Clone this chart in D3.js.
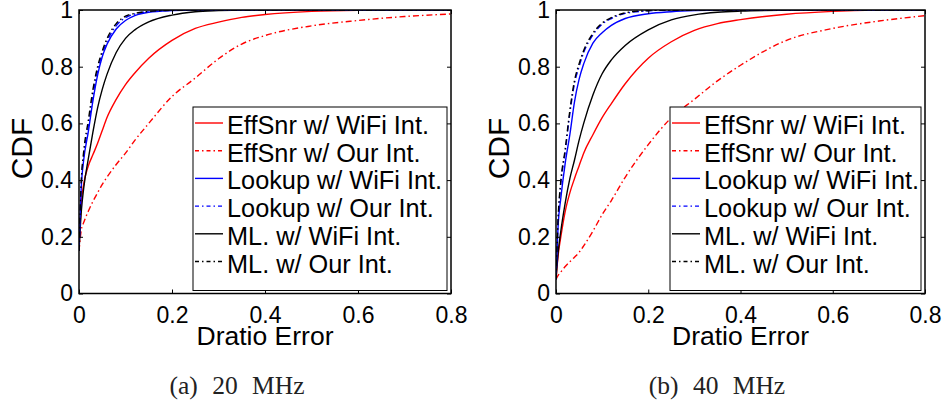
<!DOCTYPE html>
<html>
<head>
<meta charset="utf-8">
<script src="https://cdn.jsdelivr.net/npm/d3@7"></script>
<style>
  body { margin: 0; background: #fff; }
  svg text { font-family: "Liberation Sans", Arial, sans-serif; fill: #000; }
  .caption { font-family: "Liberation Serif", "Times New Roman", serif !important; fill: #222 !important; }
</style>
</head>
<body>
<svg id="chart" width="948" height="400"></svg>
<script>
// Dratio error values where each CDF was read
const errorGrid = [0, 0.005, 0.01, 0.02, 0.03, 0.04, 0.05, 0.06, 0.08, 0.1, 0.12, 0.15, 0.2, 0.25, 0.3, 0.35, 0.4, 0.5, 0.6, 0.7, 0.8]

// (a) 20 MHz
const eff20Wifi  = [0.15, 0.32, 0.385, 0.45, 0.49, 0.53, 0.575, 0.62, 0.685, 0.737, 0.778, 0.83, 0.893, 0.935, 0.957, 0.974, 0.984, 0.995, 0.999, 1, 1]
const eff20Our   = [0.15, 0.225, 0.25, 0.29, 0.325, 0.355, 0.385, 0.41, 0.455, 0.495, 0.54, 0.60, 0.695, 0.76, 0.828, 0.88, 0.91, 0.944, 0.963, 0.977, 0.986]
const look20Wifi = [0.15, 0.38, 0.47, 0.57, 0.68, 0.77, 0.835, 0.878, 0.933, 0.963, 0.98, 0.992, 0.998, 1, 1, 1, 1, 1, 1, 1, 1]
const look20Our  = [0.15, 0.39, 0.485, 0.59, 0.70, 0.785, 0.845, 0.888, 0.945, 0.973, 0.986, 0.994, 0.999, 1, 1, 1, 1, 1, 1, 1, 1]
const ml20Wifi   = [0.15, 0.29, 0.37, 0.475, 0.57, 0.655, 0.72, 0.772, 0.85, 0.90, 0.93, 0.958, 0.982, 0.994, 0.998, 1, 1, 1, 1, 1, 1]
const ml20Our    = [0.15, 0.40, 0.50, 0.61, 0.72, 0.80, 0.855, 0.898, 0.952, 0.978, 0.988, 0.995, 0.999, 1, 1, 1, 1, 1, 1, 1, 1]

// (b) 40 MHz
const eff40Wifi  = [0.05, 0.14, 0.195, 0.29, 0.355, 0.405, 0.45, 0.495, 0.56, 0.62, 0.67, 0.74, 0.83, 0.888, 0.928, 0.952, 0.966, 0.985, 0.995, 1, 1]
const eff40Our   = [0.05, 0.065, 0.075, 0.095, 0.112, 0.128, 0.145, 0.168, 0.22, 0.278, 0.328, 0.41, 0.525, 0.62, 0.685, 0.75, 0.805, 0.893, 0.935, 0.961, 0.98]
const look40Wifi = [0.05, 0.25, 0.33, 0.46, 0.56, 0.675, 0.755, 0.81, 0.883, 0.92, 0.946, 0.97, 0.987, 0.994, 0.998, 1, 1, 1, 1, 1, 1]
const look40Our  = [0.05, 0.27, 0.38, 0.50, 0.635, 0.74, 0.80, 0.85, 0.912, 0.95, 0.97, 0.988, 0.997, 1, 1, 1, 1, 1, 1, 1, 1]
const ml40Wifi   = [0.05, 0.15, 0.215, 0.32, 0.405, 0.47, 0.54, 0.60, 0.70, 0.775, 0.824, 0.875, 0.93, 0.965, 0.983, 0.992, 0.996, 0.999, 1, 1, 1]
const ml40Our    = [0.05, 0.28, 0.39, 0.51, 0.645, 0.75, 0.81, 0.857, 0.918, 0.954, 0.973, 0.99, 0.998, 1, 1, 1, 1, 1, 1, 1, 1]

const seriesNames = ['EffSnr w/ WiFi Int.', 'EffSnr w/ Our Int.', 'Lookup w/ WiFi Int.', 'Lookup w/ Our Int.', 'ML. w/ WiFi Int.', 'ML. w/ Our Int.']
const xTicks = [0, 0.2, 0.4, 0.6, 0.8]
const yTicks = [0, 0.2, 0.4, 0.6, 0.8, 1]
const captions = ['(a) 20 MHz', '(b) 40 MHz']

const colors = ['#ff0000', '#ff0000', '#0000ff', '#0000ff', '#000000', '#000000']
const dashes = [null, '6,3,1.5,3', null, '6,3,1.5,3', null, '6,3,1.5,3']

const panels = [
    { left: 79, right: 451, captionX: 237, series: [eff20Wifi, eff20Our, look20Wifi, look20Our, ml20Wifi, ml20Our] },
    { left: 556, right: 925, captionX: 717, series: [eff40Wifi, eff40Our, look40Wifi, look40Our, ml40Wifi, ml40Our] }
]

const svg = d3.select('#chart')
const plotTop = 10, plotBottom = 293.5

panels.forEach((p, pi) => {
    const x = d3.scaleLinear().domain([0, 0.8]).range([p.left, p.right])
    const y = d3.scaleLinear().domain([0, 1]).range([plotBottom, plotTop])
    const g = svg.append('g')

    g.append('clipPath').attr('id', 'clip' + pi)
        .append('rect')
        .attr('x', p.left).attr('y', plotTop)
        .attr('width', p.right - p.left).attr('height', plotBottom - plotTop)

    const line = d3.line()
        .x((d, i) => x(errorGrid[i]))
        .y(d => y(d))
        .curve(d3.curveMonotoneX)

    // draw dash-dot ones last so they sit on top like in the original
    const order = [0, 1, 4, 2, 3, 5]
    order.forEach(si => {
        g.append('path')
            .attr('clip-path', `url(#clip${pi})`)
            .attr('d', line(p.series[si]))
            .attr('fill', 'none')
            .attr('stroke', colors[si])
            .attr('stroke-width', 1.4)
            .attr('stroke-dasharray', dashes[si])
    })

    // axes with inward ticks on all four sides
    const tickLen = 4
    g.append('g').attr('transform', `translate(0,${plotBottom})`)
        .call(d3.axisBottom(x).tickValues(xTicks).tickSize(-tickLen).tickPadding(13.5).tickFormat(d3.format('')))
        .call(a => a.select('.domain').remove())
        .call(a => a.selectAll('text').attr('font-size', 23))
    g.append('g').attr('transform', `translate(0,${plotTop})`)
        .call(d3.axisTop(x).tickValues(xTicks).tickSize(-tickLen).tickFormat(''))
        .call(a => a.select('.domain').remove())
    g.append('g').attr('transform', `translate(${p.left},0)`)
        .call(d3.axisLeft(y).tickValues(yTicks).tickSize(-tickLen).tickPadding(6).tickFormat(d3.format('')))
        .call(a => a.select('.domain').remove())
        .call(a => a.selectAll('text').attr('font-size', 23))
    g.append('g').attr('transform', `translate(${p.right},0)`)
        .call(d3.axisRight(y).tickValues(yTicks).tickSize(-tickLen).tickFormat(''))
        .call(a => a.select('.domain').remove())
    g.selectAll('.tick line').attr('stroke', '#000').attr('stroke-width', 1)

    g.append('rect')
        .attr('x', p.left).attr('y', plotTop)
        .attr('width', p.right - p.left).attr('height', plotBottom - plotTop)
        .attr('fill', 'none').attr('stroke', '#000').attr('stroke-width', 1.5)

    // legend
    const lg = g.append('g')
    const lgLeft = p.left + 114, lgRight = p.right - 4
    lg.append('rect')
        .attr('x', lgLeft).attr('y', 107)
        .attr('width', lgRight - lgLeft).attr('height', 183.5)
        .attr('fill', '#fff').attr('stroke', '#000').attr('stroke-width', 1)
    seriesNames.forEach((name, i) => {
        const base = 134 + i * 27.7
        lg.append('line')
            .attr('x1', lgLeft + 2).attr('x2', lgLeft + 30)
            .attr('y1', base - 11).attr('y2', base - 11)
            .attr('stroke', colors[i]).attr('stroke-width', 1.4)
            .attr('stroke-dasharray', dashes[i] ? '4,3,1.5,3' : null)
        lg.append('text')
            .attr('x', lgLeft + 34).attr('y', base)
            .attr('font-size', 25.3)
            .text(name)
    })

    // labels
    g.append('text')
        .attr('x', (p.left + p.right) / 2).attr('y', 345)
        .attr('text-anchor', 'middle').attr('font-size', 26.5)
        .text('Dratio Error')
    g.append('text')
        .attr('transform', `translate(${p.left - 47},148.5) rotate(-90)`)
        .attr('text-anchor', 'middle').attr('font-size', 30)
        .text('CDF')
    g.append('text')
        .attr('class', 'caption')
        .attr('x', p.captionX).attr('y', 394)
        .attr('text-anchor', 'middle').attr('font-size', 25.5)
        .attr('word-spacing', 8)
        .text(captions[pi])
})
</script>
</body>
</html>
